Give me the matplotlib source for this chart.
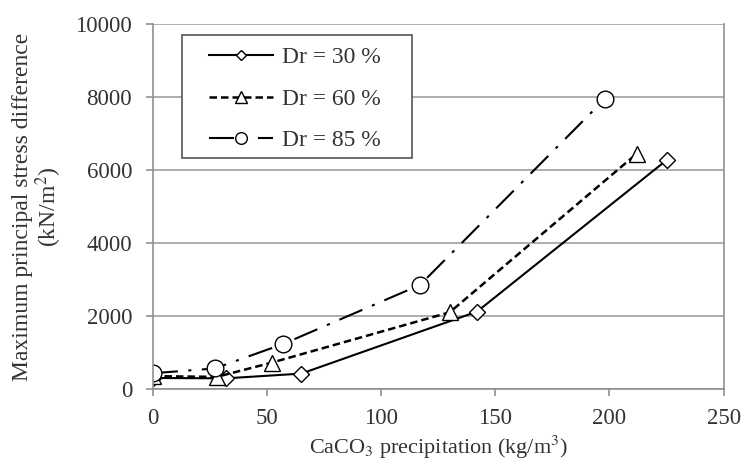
"""
Maximum principal stress difference vs CaCO3 precipitation for three relative densities
"""

from matplotlib import pyplot as plt
from matplotlib.patches import Rectangle

plt.rcParams['font.family'] = ['Liberation Serif', 'DejaVu Serif']
plt.rcParams['mathtext.fontset'] = 'stix'

# CaCO3 precipitation (kg/m3) and stress difference (kN/m2)
x_dr30 = [0, 32, 65, 142, 225]
y_dr30 = [300, 290, 420, 2120, 6270]

x_dr60 = [0, 28, 52, 130, 212]
y_dr60 = [350, 330, 720, 2100, 6450]

x_dr85 = [0, 27, 57, 117, 198]
y_dr85 = [430, 560, 1230, 2850, 7950]

labels = ['Dr = 30 %', 'Dr = 60 %', 'Dr = 85 %']
x_ticks = [0, 50, 100, 150, 200, 250]
y_ticks = [0, 2000, 4000, 6000, 8000, 10000]

fig = plt.figure(dpi=100, figsize=(7.44, 4.63))
ax = fig.add_axes([0.2056, 0.160, 0.767, 0.788])

ax.plot(x_dr30, y_dr30, c='black', linewidth=1.5, linestyle='-',
        marker='D', markersize=8, markerfacecolor='white',
        markeredgecolor='black', markeredgewidth=1, label=labels[0])
ax.plot(x_dr60, y_dr60, c='black', linewidth=1.8, linestyle=(0, (3, 1.6)),
        marker='^', markersize=12, markerfacecolor='white',
        markeredgecolor='black', markeredgewidth=1, label=labels[1])
ax.plot(x_dr85, y_dr85, c='black', linewidth=1.5, linestyle=(0, (12, 5, 1.5, 5)),
        marker='o', markersize=12, markerfacecolor='white',
        markeredgecolor='black', markeredgewidth=1, label=labels[2])

# Format plot
ax.set_xlim(0, 250)
ax.set_ylim(0, 10000)
ax.set_xticks(x_ticks)
ax.set_yticks(y_ticks)
ax.yaxis.grid(True, color='#a0a0a0', linewidth=1.2)
ax.set_axisbelow(True)
for side in ['left', 'bottom', 'right']:
    ax.spines[side].set_color('#909090')
    ax.spines[side].set_linewidth(1.2)
ax.spines['top'].set_visible(False)
ax.tick_params(axis='both', which='major', labelsize=16.5, color='#909090',
               length=5, width=1.2, direction='out', labelcolor='#333333')
ax.tick_params(axis='y', pad=10)
ax.tick_params(axis='x', pad=9)

ax.set_xlabel('CaCO$_3$ precipitation (kg/m$^3$)', fontsize=16, color='#333333',
              labelpad=3)
ax.set_ylabel('Maximum principal stress difference\n(kN/m$^2$)', fontsize=17,
              color='#333333', labelpad=8, linespacing=1.05)

# legend box drawn separately so it can be wider than the entries
box = Rectangle((0.051, 0.633), 0.403, 0.337, transform=ax.transAxes,
                facecolor='white', edgecolor='#555555', linewidth=1.2, zorder=4)
ax.add_patch(box)
leg = ax.legend(loc='upper left', bbox_to_anchor=(0.098, 0.938), fontsize=17,
                frameon=False, handlelength=2.7, handletextpad=0.4,
                borderpad=0, labelspacing=0.85, markerscale=0.7,
                borderaxespad=0)
leg.set_zorder(5)
for text in leg.get_texts():
    text.set_color('#333333')

fig.savefig('out.png', dpi=100)
